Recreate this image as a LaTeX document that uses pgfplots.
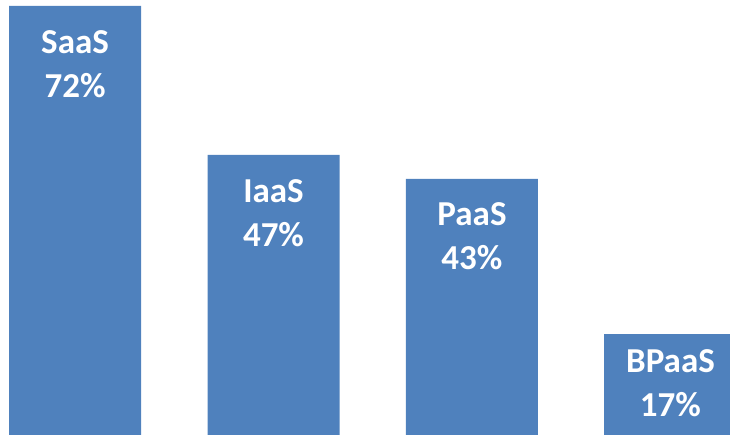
\documentclass[border=0pt]{standalone}
\usepackage{pgfplots}
\pgfplotsset{compat=1.18}
\usepackage{fontspec}
\setmainfont{Carlito}
\definecolor{barblue}{HTML}{4F81BD}
\protected\def\lab#1#2{#1\\#2\%}
\begin{document}
\begin{tikzpicture}
\useasboundingbox (0,0) rectangle (730pt,435pt);
\begin{axis}[
  at={(0,0)}, anchor=south west,
  width=730pt, height=435pt, scale only axis,
  hide axis, clip=true,
  xmin=-0.378, xmax=3.300, ymin=0, ymax=73.0,
  ybar, bar width=0.665, bar shift=0pt,
  point meta=explicit symbolic,
  nodes near coords={\pgfplotspointmeta},
  every node near coord/.append style={anchor=north, align=center, inner sep=0pt,
    text=white, font=\fontsize{35}{44}\selectfont\bfseries},
]
\addplot[fill=barblue, draw=none,
  every node near coord/.append style={yshift=-24pt}] coordinates {
  (0,72) [\lab{SaaS}{72}]
  (1,47) [\lab{IaaS}{47}]
  (2,43) [\lab{PaaS}{43}]
};
\addplot[fill=barblue, draw=none,
  every node near coord/.append style={yshift=-16pt}] coordinates {
  (3,17) [\lab{BPaaS}{17}]
};
\end{axis}
\end{tikzpicture}
\end{document}
